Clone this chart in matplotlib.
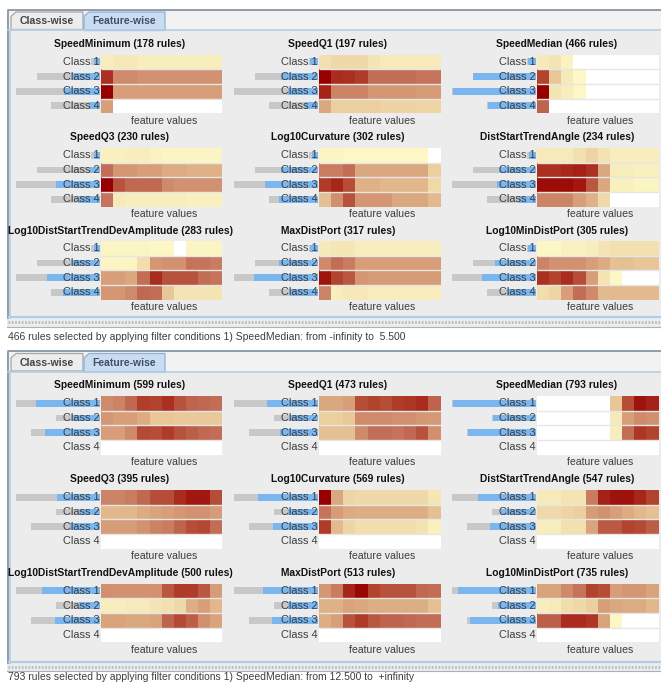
#!/usr/bin/env python3
"""Rule explorer screenshot: feature-wise heat strips for two rule selections"""

import matplotlib
matplotlib.use("Agg")
import matplotlib.pyplot as plt
from matplotlib.colors import LinearSegmentedColormap
from matplotlib.patches import Rectangle, Polygon
import numpy as np

plt.rcParams["font.family"] = ["Liberation Sans", "DejaVu Sans"]

W, H = 661, 684
N = np.nan

# ── data ──
CLASSES = ["Class 1", "Class 2", "Class 3", "Class 4"]
FEATURES = ["SpeedMinimum", "SpeedQ1", "SpeedMedian",
            "SpeedQ3", "Log10Curvature", "DistStartTrendAngle",
            "Log10DistStartTrendDevAmplitude", "MaxDistPort", "Log10MinDistPort"]

RULES_TOP = [178, 197, 466, 230, 302, 234, 283, 317, 305]
RULES_BOT = [599, 473, 793, 395, 569, 547, 500, 513, 735]

# grey bar = all rules of the class, blue bar = rules selected for the feature
GREY_TOP = [9, 63, 84, 49]
GREY_BOT = [84, 44, 69, 0]

BLUE_TOP = [[6, 28, 36, 11], [8, 37, 30, 13], [8, 63, 83, 48],
            [6, 10, 44, 21], [6, 37, 53, 39], [7, 37, 39, 17],
            [6, 28, 53, 37], [8, 39, 64, 28], [8, 41, 54, 29]]
BLUE_BOT = [[64, 28, 55, 0], [51, 28, 38, 0], [83, 43, 68, 0],
            [43, 21, 30, 0], [60, 30, 45, 0], [58, 35, 46, 0],
            [58, 21, 45, 0], [55, 30, 46, 0], [78, 38, 66, 0]]

TOP_MIN = [[.10, .13, .13, .10, .10, .10, .10, .10, .10, .10],
           [.82, .50, .50, .47, .47, .47, .47, .47, .47, .47],
           [1.0, .42, .42, .42, .42, .42, .42, .42, .42, .42],
           [.42, N, N, N, N, N, N, N, N, N]]
TOP_Q1 = [[.17, .20, .20, .20, .15, .12, .12, .12, .12, .12],
          [1.0, .83, .82, .78, .60, .60, .60, .60, .58, .58],
          [.86, .52, .52, .52, .45, .45, .45, .45, .43, .43],
          [.38, .25, .25, .25, .25, .23, .23, .23, .22, .22]]
TOP_MED = [[.12, .15, .06, N, N, N, N, N, N, N],
           [.75, .28, .12, .03, N, N, N, N, N, N],
           [1.0, .15, .10, .03, N, N, N, N, N, N],
           [.63, N, N, N, N, N, N, N, N, N]]
TOP_Q3 = [[.08, .08, .10, .10, .06, .04, .04, .04, .04, .04],
          [.60, .45, .45, .42, .42, .37, .37, .35, .35, .35],
          [1.0, .70, .62, .62, .62, .50, .47, .47, .47, .47],
          [.58, .12, .10, .10, .10, .10, .10, .08, .08, .08]]
TOP_CURV = [[.04, .04, .03, .03, .03, .03, .03, .03, .03, N],
            [.55, .55, .60, .38, .38, .38, .38, .38, .38, .25],
            [.78, .85, .72, .35, .35, .33, .33, .33, .33, .20],
            [.30, .48, .70, .45, .45, .45, .38, .38, .38, .32]]
TOP_ANGLE = [[.12, .12, .12, .17, .23, .16, .10, .10, .10, .10],
             [.82, .82, .84, .87, .82, .38, .10, .10, .08, .08],
             [.95, .95, .95, .90, .68, .38, .08, .08, .05, .05],
             [.52, .52, .52, .42, .35, .20, N, N, N, N]]
TOP_AMP = [[.05, .05, .05, .04, .03, .03, N, .04, .04, .05],
           [.05, .05, .05, .18, .45, .47, .47, .58, .58, .55],
           [.42, .42, .38, .60, .83, .70, .70, .70, .60, .58],
           [.45, .45, .50, .62, .60, .28, .15, .15, .15, .15]]
TOP_MAX = [[.12, .14, .14, .10, .10, .10, .10, .10, .10, .10],
           [.50, .60, .55, .42, .42, .42, .42, .42, .42, .42],
           [.92, .75, .68, .45, .43, .43, .43, .43, .43, .43],
           [.52, .10, .13, .13, .10, .10, .10, .10, .10, .10]]
TOP_PORT = [[.03, .03, .07, .07, .10, .15, .17, .17, .17, .17],
            [.52, .47, .47, .47, .42, .37, .30, .30, .28, .28],
            [.82, .75, .83, .72, .42, .15, .03, N, N, N],
            [.18, .22, .42, .60, .50, .32, .32, .32, .32, .32]]

EMPTY = [N] * 10
BOT_MIN = [[.50, .53, .62, .77, .75, .82, .70, .63, .62, .60],
           [.45, .42, .42, .37, .28, .28, .27, .27, .27, .27],
           [.42, .42, .50, .73, .72, .78, .70, .65, .62, .60], EMPTY]
BOT_Q1 = [[.38, .38, .42, .72, .75, .72, .78, .80, .83, .63],
          [.25, .25, .27, .50, .50, .50, .48, .48, .45, .44],
          [.30, .30, .30, .50, .60, .60, .58, .62, .70, .48], EMPTY]
BOT_MED = [[N, N, N, N, N, N, .28, .72, .92, .87],
           [N, N, N, N, N, N, .12, .42, .50, .48],
           [N, N, N, N, N, N, .10, .60, .80, .75], EMPTY]
BOT_Q3 = [[.52, .52, .55, .62, .72, .72, .83, .90, .90, .72],
          [.33, .33, .33, .37, .40, .42, .45, .47, .47, .43],
          [.43, .43, .43, .47, .53, .55, .63, .72, .74, .60], EMPTY]
BOT_CURV = [[1.0, .38, .22, .20, .20, .20, .20, .20, .20, .14],
            [.58, .43, .37, .36, .36, .36, .36, .36, .36, .30],
            [.78, .32, .22, .18, .18, .18, .18, .18, .16, .08], EMPTY]
BOT_ANGLE = [[.12, .12, .15, .15, .55, .87, .92, .93, .85, .75],
             [.20, .20, .23, .25, .43, .47, .42, .37, .33, .30],
             [.10, .10, .17, .17, .40, .67, .67, .75, .73, .66], EMPTY]
BOT_AMP = [[.48, .47, .47, .47, .47, .68, .78, .78, .68, .43],
           [.10, .10, .12, .12, .15, .17, .20, .36, .42, .33],
           [.40, .40, .38, .38, .40, .63, .73, .65, .48, .40], EMPTY]
BOT_MAX = [[.45, .55, .85, .97, .75, .70, .70, .70, .62, .60],
           [.35, .35, .40, .38, .36, .36, .36, .36, .36, .30],
           [.36, .42, .70, .78, .68, .63, .63, .62, .60, .60], EMPTY]
BOT_PORT = [[.40, .40, .50, .58, .75, .72, .42, .45, .45, .40],
            [.10, .12, .18, .20, .25, .42, .38, .37, .37, .33],
            [.65, .65, .83, .83, .80, .40, .03, N, N, N], EMPTY]

HEAT_TOP = [TOP_MIN, TOP_Q1, TOP_MED, TOP_Q3, TOP_CURV, TOP_ANGLE, TOP_AMP, TOP_MAX, TOP_PORT]
HEAT_BOT = [BOT_MIN, BOT_Q1, BOT_MED, BOT_Q3, BOT_CURV, BOT_ANGLE, BOT_AMP, BOT_MAX, BOT_PORT]

STATUS_TOP = "466 rules selected by applying filter conditions 1) SpeedMedian: from -infinity to  5.500"
STATUS_BOT = "793 rules selected by applying filter conditions 1) SpeedMedian: from 12.500 to  +infinity"

# ── layout (pixels) ──
HEAT_X = [101, 319, 537]
TITLE_X = [120, 338, 557]
HEAT_W = 121.5
HEAT_H = 58.7
ROWS_TOP = [54.5, 148, 241]
ROWS_BOT = [396, 490, 583.5]

# ── colours ──
PANEL = "#ececec"
TEXT = "#3d3d3d"
GREY_BAR = "#c8c8c8"
BLUE_BAR = "#7ab6ef"
EDGE = "#7f8e9d"
TAB_BLUE = "#c8dcf3"
LINE_BLUE = "#b4cde6"
HEAT_CMAP = LinearSegmentedColormap.from_list(
    "rules", ["#fefbc9", "#f6e9b9", "#eccf9f", "#dba980", "#cf8a6b",
              "#bf6650", "#b2452f", "#a51f16", "#960000"])
HEAT_CMAP.set_bad("#ffffff")

fig = plt.figure(figsize=(W / 100, H / 100), dpi=100, facecolor="white")


def px_axes(x, y, w, h, zorder=1):
    """top-left pixel box -> figure axes"""
    ax = fig.add_axes([x / W, 1 - (y + h) / H, w / W, h / H], zorder=zorder)
    ax.axis("off")
    return ax


base = px_axes(0, 0, W, H, 0)
base.set_xlim(0, W)
base.set_ylim(H, 0)

over = px_axes(0, 0, W, H, 5)
over.set_xlim(0, W)
over.set_ylim(H, 0)
over.patch.set_alpha(0)


def draw_chrome(top, bottom, status, status_y):
    """tabbed pane, divider and status line"""
    base.add_patch(Rectangle((7, top), W - 7, bottom - top, fc=PANEL, ec="none"))
    base.plot([7.5, 7.5, W], [bottom, top, top], color=EDGE, lw=1.2)
    base.add_patch(Rectangle((8, top + 1), W - 8, 20, fc="#f2f2f2", ec="none"))
    base.plot([8, W], [top + 20.5, top + 20.5], color=LINE_BLUE, lw=1.2)
    base.plot([9.5, 9.5], [top + 21, bottom], color=LINE_BLUE, lw=1.2)
    base.plot([9, W], [bottom - 1, bottom - 1], color=LINE_BLUE, lw=1.6)

    tab1 = [(11, top + 20), (11, top + 7), (16, top + 2.5), (83, top + 2.5), (83, top + 20)]
    tab2 = [(84, top + 21), (84, top + 7), (89, top + 2.5), (165, top + 2.5), (165, top + 21)]
    base.add_patch(Polygon(tab1, fc="#ededed", ec="#a6a6a6", lw=0.9))
    base.add_patch(Polygon(tab2, fc=TAB_BLUE, ec="#8fb2d6", lw=0.9))
    over.text(47, top + 11.5, "Class-wise", ha="center", va="center",
              fontsize=7.6, fontweight="bold", color="#444444")
    over.text(124, top + 11.5, "Feature-wise", ha="center", va="center",
              fontsize=7.45, fontweight="bold", color="#44505c")

    # dotted splitter under the pane
    base.add_patch(Rectangle((7, bottom), W - 7, 9, fc="#e9edf0", ec="none"))
    base.plot([8, W], [bottom + 4, bottom + 4], color="#bcbcbc", lw=2.0, ls=(0, (0.6, 0.6)))
    base.plot([7, W], [bottom + 8.5, bottom + 8.5], color="#b0b0b0", lw=0.8)
    over.text(8.5, status_y, status, ha="left", va="center", fontsize=7.45, color=TEXT)


def draw_panel(col, row_y, name, rules, heat, grey, blue):
    x0 = HEAT_X[col]
    hm = px_axes(x0, row_y, HEAT_W, HEAT_H, 2)
    hm.pcolormesh(np.ma.masked_invalid(np.array(heat)), cmap=HEAT_CMAP, vmin=0, vmax=1)
    hm.hlines([1, 2, 3], 0, 10, color="#e6e6e6", lw=1.0)
    hm.set_xlim(0, 10)
    hm.set_ylim(4, 0)

    bars = px_axes(x0 - 85, row_y, 84, HEAT_H, 2)
    ypos = np.arange(len(CLASSES))
    bars.barh(ypos, grey, height=0.46, color=GREY_BAR)
    bars.barh(ypos, blue, height=0.46, color=BLUE_BAR)
    bars.set_xlim(84, 0)
    bars.set_ylim(3.5, -0.5)

    row_h = HEAT_H / 4
    for i, label in enumerate(CLASSES):
        over.text(x0 - 1.5, row_y + row_h * (i + 0.5), label, ha="right", va="center",
                  fontsize=7.9, color=TEXT)
    over.text(TITLE_X[col], row_y - 10.5, f"{name} ({rules} rules)", ha="center", va="center",
              fontsize=7.4, fontweight="bold", color="#111111")
    over.text(x0 + HEAT_W / 2 + 2.5, row_y + HEAT_H + 7.5, "feature values", ha="center", va="center",
              fontsize=7.6, color=TEXT)


draw_chrome(9.5, 318, STATUS_TOP, 337)
draw_chrome(351, 662.5, STATUS_BOT, 677.5)

for i, name in enumerate(FEATURES):
    col = i % 3
    line = i // 3
    draw_panel(col, ROWS_TOP[line], name, RULES_TOP[i], HEAT_TOP[i], GREY_TOP, BLUE_TOP[i])
    draw_panel(col, ROWS_BOT[line], name, RULES_BOT[i], HEAT_BOT[i], GREY_BOT, BLUE_BOT[i])

fig.savefig("out.png", dpi=100, facecolor="white")
plt.close(fig)
